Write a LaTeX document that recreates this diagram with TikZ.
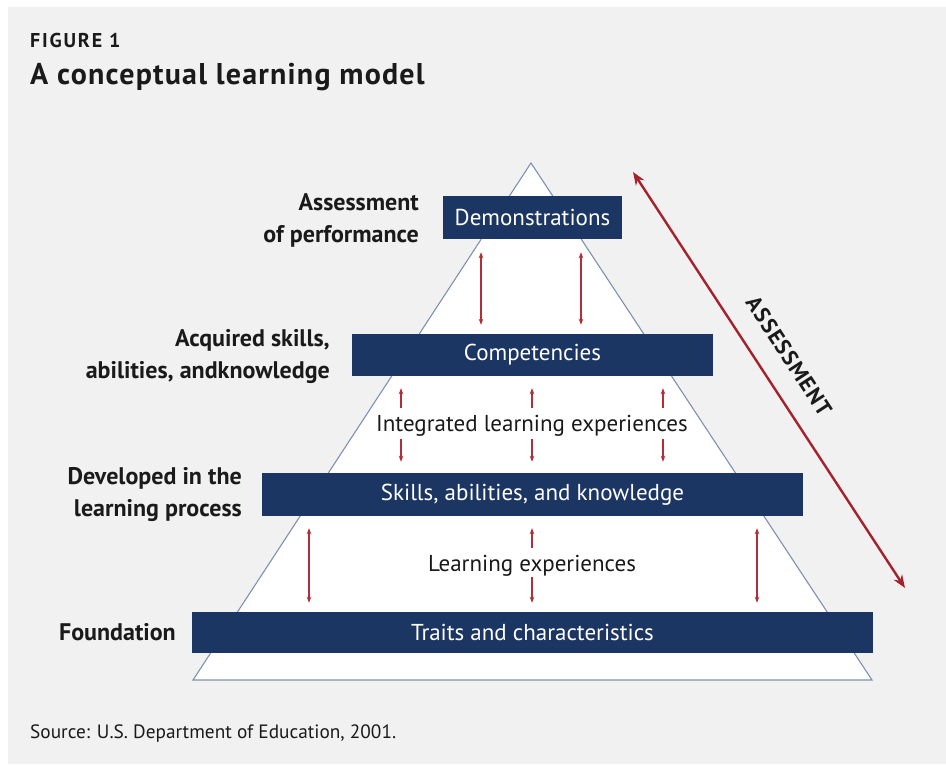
\documentclass[tikz,border=0pt]{standalone}
\usepackage{fontspec}
\setmainfont{PT Sans}
\usetikzlibrary{arrows.meta}
\definecolor{bg}{HTML}{F1F1F1}
\definecolor{navy}{HTML}{1C3664}
\definecolor{tri}{HTML}{7F91B0}
\definecolor{rarr}{HTML}{B0303A}
\definecolor{darr}{HTML}{A3222B}
\definecolor{ink}{HTML}{1A1A1A}
\tikzset{
  box/.style={fill=navy, draw=none, text=white, inner sep=0pt,
    font=\fontsize{23}{26}\selectfont},
  lbl/.style={font=\bfseries\fontsize{24}{32}\selectfont, align=right, anchor=east, text=ink, inner sep=0pt},
  mid/.style={font=\fontsize{23}{26}\selectfont, text=ink, inner sep=0pt},
  rarrow/.style={draw=rarr, line width=1.2pt, {Stealth[length=6pt,width=4.5pt]}-{Stealth[length=6pt,width=4.5pt]}},
  sarrow/.style={draw=rarr, line width=1.2pt, -{Stealth[length=6pt,width=4.5pt]}},
  bigarrow/.style={draw=darr, line width=2.4pt, {Stealth[length=13pt,width=10pt]}-{Stealth[length=13pt,width=10pt]}}
}
\begin{document}
\begin{tikzpicture}[x=1pt,y=-1pt]
\useasboundingbox (0,0) rectangle (946,764);
\fill[white] (0,0) rectangle (946,764);
\fill[bg] (8,7) rectangle (946,764);

% title
\node[anchor=base west, inner sep=0pt, text=ink, font=\bfseries\fontsize{20}{22}\selectfont\addfontfeatures{LetterSpace=9}] (fig) at (30,47) {FIGURE 1};
\node[anchor=base west, inner sep=0pt, text=ink, font=\bfseries\fontsize{30}{34}\selectfont\addfontfeatures{LetterSpace=4}] (title) at (30,84) {A conceptual learning model};

% pyramid
\draw[tri, fill=white, line width=1.1pt, line join=miter] (531,163) -- (193,680) -- (872,680) -- cycle;

% boxes
\node[box, minimum width=179pt, minimum height=43pt] (demo) at (532.5,217.5) {Demonstrations};
\node[box, minimum width=361pt, minimum height=42pt] (comp) at (532.5,355) {Competencies};
\node[box, minimum width=541pt, minimum height=43pt] (skills) at (532.5,494.5) {Skills, abilities, and knowledge};
\node[box, minimum width=681pt, minimum height=41pt] (traits) at (532.5,632.5) {Traits and characteristics};

% middle texts
\node[mid] (integ) at (532,426) {Integrated learning experiences};
\node[mid] (learn) at (532,566) {Learning experiences};

% left labels
\node[lbl] (l1) at (419,220) {Assessment\\of performance};
\node[lbl] (l2) at (330,356.5) {Acquired skills,\\abilities, andknowledge};
\node[lbl] (l3) at (242,495) {Developed in the\\learning process};
\node[lbl] (l4) at (176,632) {Foundation};

% arrows demo - comp
\foreach \dx in {-51.5,48.5}{
  \draw[rarrow] ([xshift=\dx pt,yshift=-13pt]demo.south) -- ([xshift=\dx pt,yshift=9pt]comp.north);
}
% arrows comp - integ - skills
\foreach \dx in {-131.5,-0.5,130.5}{
  \draw[sarrow] ([xshift=\dx pt,yshift=-32pt]comp.south) -- ([xshift=\dx pt,yshift=-12pt]comp.south);
  \draw[sarrow] ([xshift=\dx pt,yshift=34pt]skills.north) -- ([xshift=\dx pt,yshift=11pt]skills.north);
}
% arrows skills - traits
\foreach \dx in {-223.5,224.5}{
  \draw[rarrow] ([xshift=\dx pt,yshift=-12pt]skills.south) -- ([xshift=\dx pt,yshift=9pt]traits.north);
}
\draw[sarrow] ([xshift=-0.5pt,yshift=-32pt]skills.south) -- ([xshift=-0.5pt,yshift=-12pt]skills.south);
\draw[sarrow] ([xshift=-0.5pt,yshift=35pt]traits.north) -- ([xshift=-0.5pt,yshift=9pt]traits.north);

% assessment arrow
\coordinate (aTop) at (633,172);
\coordinate (aBot) at (905,588);
\draw[bigarrow] (aTop) -- (aBot);
\node[rotate=-56.8, inner sep=0pt, text=ink, font=\bfseries\fontsize{22}{24}\selectfont\addfontfeatures{LetterSpace=5}] (assess) at (789,356) {ASSESSMENT};

% source
\node[anchor=base west, inner sep=0pt, text=ink, font=\fontsize{19.3}{22}\selectfont] (src) at (30,738) {Source: U.S. Department of Education, 2001.};
\end{tikzpicture}
\end{document}
